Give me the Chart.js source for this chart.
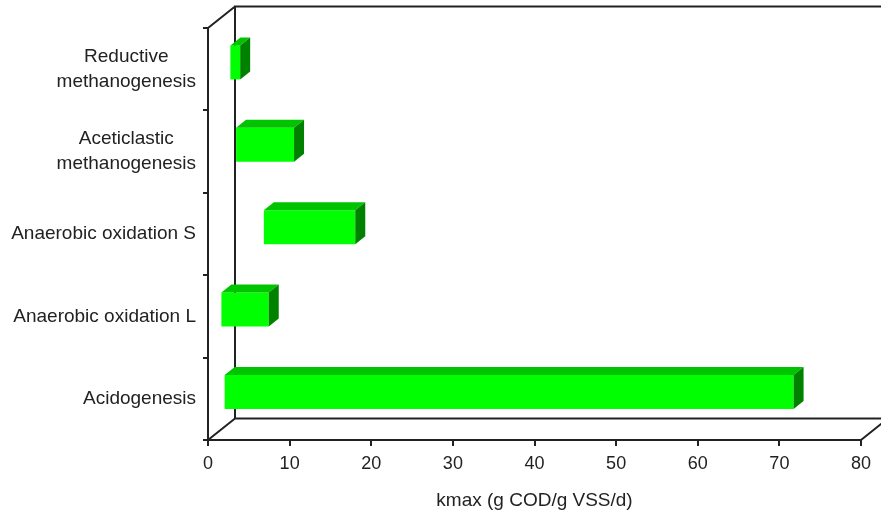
<!DOCTYPE html>
<html>
<head>
<meta charset="utf-8">
<script src="https://cdn.jsdelivr.net/npm/chart.js@4.4.1/dist/chart.umd.min.js"></script>
<style>
  html, body { margin: 0; padding: 0; background: #fff; overflow: hidden; }
  #wrap { width: 881px; height: 513px; }
</style>
</head>
<body>
<div id="wrap"><canvas id="c" width="881" height="513"></canvas></div>
<script>
// Process names (one entry per line of the axis label)
const processes = [
  ['Reductive', 'methanogenesis'],
  ['Aceticlastic', 'methanogenesis'],
  ['Anaerobic oxidation S'],
  ['Anaerobic oxidation L'],
  ['Acidogenesis']
];
// kmax range per process, g COD / g VSS / d
const kmaxLow  = [1.7, 2.4, 5.8, 0.6, 1.0];
const kmaxHigh = [2.9, 9.5, 17.0, 6.4, 70.7];
const xTicks = [0, 10, 20, 30, 40, 50, 60, 70, 80];
const xTitle = 'kmax (g COD/g VSS/d)';

// 3D box geometry
const WALL = { dx: 27, dy: -21.5 };      // depth of the floor / back wall
const BAR_SHIFT = { dx: 8.5, dy: -6.8 }; // bars sit in the middle of the depth
const BAR_DEPTH = { dx: 10, dy: -8 };
const INK = '#222';
const FONT = '"Liberation Sans", Arial, sans-serif';
const LABEL_RIGHT = 196;
const LABEL_LINE = 25;

const rows = processes.map(p => p.join(' '));
const ranges = kmaxLow.map((lo, i) => [lo, kmaxHigh[i]]);

const box3d = {
  id: 'box3d',
  beforeDatasetsDraw(chart) {
    const { ctx, chartArea: a } = chart;
    const bl = a.left + WALL.dx, bt = a.top + WALL.dy, bb = a.bottom + WALL.dy, br = a.right + WALL.dx;
    ctx.save();
    ctx.strokeStyle = INK;
    ctx.lineWidth = 2;
    ctx.beginPath();
    // back wall
    ctx.moveTo(bl, bb); ctx.lineTo(bl, bt); ctx.lineTo(br, bt); ctx.lineTo(br, bb); ctx.lineTo(bl, bb);
    // depth edges
    ctx.moveTo(a.left, a.top); ctx.lineTo(bl, bt);
    ctx.moveTo(a.left, a.bottom); ctx.lineTo(bl, bb);
    ctx.moveTo(a.right, a.bottom); ctx.lineTo(br, bb);
    ctx.stroke();
    ctx.restore();
    ctx.save();
    ctx.translate(BAR_SHIFT.dx, BAR_SHIFT.dy);
  },
  afterDatasetsDraw(chart) {
    const { ctx } = chart;
    const ds = chart.data.datasets[0];
    chart.getDatasetMeta(0).data.forEach(el => {
      const p = el.getProps(['x', 'y', 'base', 'height'], true);
      const l = Math.min(p.x, p.base), r = Math.max(p.x, p.base);
      const t = p.y - p.height / 2, b = p.y + p.height / 2;
      ctx.fillStyle = ds.topColor;
      ctx.beginPath();
      ctx.moveTo(l, t); ctx.lineTo(l + BAR_DEPTH.dx, t + BAR_DEPTH.dy);
      ctx.lineTo(r + BAR_DEPTH.dx, t + BAR_DEPTH.dy); ctx.lineTo(r, t);
      ctx.closePath(); ctx.fill();
      ctx.fillStyle = ds.sideColor;
      ctx.beginPath();
      ctx.moveTo(r, t); ctx.lineTo(r + BAR_DEPTH.dx, t + BAR_DEPTH.dy);
      ctx.lineTo(r + BAR_DEPTH.dx, b + BAR_DEPTH.dy); ctx.lineTo(r, b);
      ctx.closePath(); ctx.fill();
    });
    ctx.restore();
  },
  afterDraw(chart) {
    // category labels: multi-line names centred on their widest line
    const { ctx } = chart;
    const ys = chart.scales.y;
    ctx.save();
    ctx.font = '19px ' + FONT;
    ctx.fillStyle = INK;
    ctx.textAlign = 'center';
    ctx.textBaseline = 'middle';
    processes.forEach((lines, i) => {
      const yc = ys.getPixelForValue(i);
      const w = Math.max(...lines.map(s => ctx.measureText(s).width));
      const cx = LABEL_RIGHT - w / 2;
      lines.forEach((s, j) => ctx.fillText(s, cx, yc + (j - (lines.length - 1) / 2) * LABEL_LINE));
    });
    ctx.restore();
  }
};

new Chart(document.getElementById('c'), {
  type: 'bar',
  data: {
    labels: rows,
    datasets: [{
      data: ranges,
      backgroundColor: '#00ff00',
      topColor: '#00c400',
      sideColor: '#008200',
      borderWidth: 0,
      borderSkipped: false,
      categoryPercentage: 1,
      barPercentage: 0.413,
      clip: false
    }]
  },
  options: {
    indexAxis: 'y',
    responsive: false,
    devicePixelRatio: 1,
    animation: false,
    layout: { padding: { top: 28, right: 20, left: 0, bottom: 0 } },
    plugins: { legend: { display: false }, tooltip: { enabled: false } },
    scales: {
      x: {
        type: 'linear',
        min: 0,
        max: 80,
        afterBuildTicks: s => { s.ticks = xTicks.map(v => ({ value: v })); },
        afterFit: s => { s.height = 73; },
        grid: { drawOnChartArea: false, color: INK, lineWidth: 2, tickLength: 6 },
        border: { color: INK, width: 2 },
        ticks: { color: INK, font: { family: FONT, size: 18 }, padding: 7, maxRotation: 0 },
        title: { display: true, text: xTitle, color: INK, font: { family: FONT, size: 19 }, padding: { top: 0, bottom: 1 } }
      },
      y: {
        type: 'category',
        offset: true,
        afterFit: s => { s.width = 208; },
        grid: { offset: true, drawOnChartArea: false, color: INK, lineWidth: 2, tickLength: 5 },
        border: { color: INK, width: 2 },
        ticks: { display: false }
      }
    }
  },
  plugins: [box3d]
});
</script>
</body>
</html>
